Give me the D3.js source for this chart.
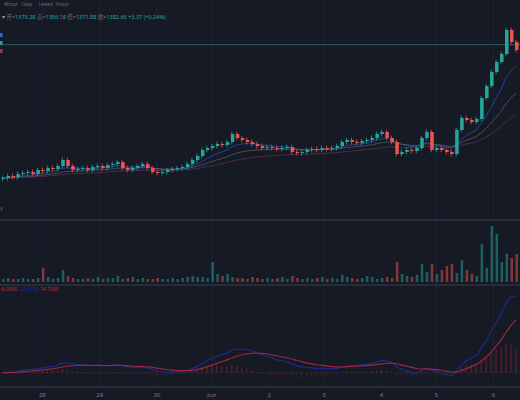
<!DOCTYPE html>
<html>
<head>
<meta charset="UTF-8">
<script src="https://d3js.org/d3.v7.min.js"></script>
<style>
  body{margin:0;background:#161a25;}
  svg{display:block;font-family:"Noto Sans","Noto Sans CJK SC",sans-serif;}
</style>
</head>
<body>
<svg id="chart" width="520" height="400"></svg>
<script>
// closing prices, one per candle
const closes = [1316,1317,1316.5,1318,
  1318.5,1319,1318,1320,1319.5,1321,1320.5,1322,
  1325,1322,1320,
  1320.5,1321,1320,1321.5,1322,1321,1322.5,1323,
  1324,1321,1320,1321,1322,1323,1321,
  1319,1318.5,1319,1320,1320.5,1321,1321.5,
  1323,1325,1327,1330,1331,1332,1333,1332.5,1334,
  1338,1336,1335,1334,1333,1332,
  1331,1331.5,1331,1330.5,1331,1331.5,1329,1328.5,
  1329,1330,1330.5,1330,1331,1330.5,1331,1332,
  1334,1335,1334,1333.5,1334.5,1335,1336,1338,
  1339,1336,1334,1328,1329,1330,1329.5,1331,1336,1339,1330,
  1331,1330,1329,1328,1340,1346,1345,1344,1345.5,
  1356,1362,1369,1374,1378,1390,1384,1380];
const volumes = [3,4,3,3,4,3,3,4,14,5,3,4,
  12,6,4,3,3,4,3,5,3,4,4,6,3,4,5,3,4,3,
  3,4,3,3,4,3,4,5,6,5,5,4,20,8,6,8,5,4,4,3,
  5,4,3,4,3,4,5,3,6,4,3,4,3,4,5,3,4,3,
  7,5,4,3,4,6,5,3,4,5,4,20,8,6,5,7,18,10,18,
  8,12,16,18,9,22,12,8,6,38,14,56,48,20,28,24,28];
const tickIdx = [8,19.5,31,42,53.5,64.5,76,87,98.5];
const tickLabels = ['28','29','30','Jun','2','3','4','5','6'];
const header = [['开','1379.28'],['高','1386.18'],['低','1371.88'],['收','1382.66']];
const lastPrice = 1382.66;

const W = 520, H = 400;
const svg = d3.select('#chart');
const up = '#26a69a', down = '#ef5350';

const candles = closes.map((c,i)=>{
  const o = i ? closes[i-1] : c - 0.5;
  return {i, o, c, h: Math.max(o,c)+1.2, l: Math.min(o,c)-1.2, v: volumes[i]};
});

const x = d3.scaleBand().domain(d3.range(closes.length)).range([0,W]).padding(0.3);
const xc = i => x.step()*i + x.step()/2;
const y = d3.scaleLinear().domain([1305,1405]).range([200,0]);
const yv = d3.scaleLinear().domain([0,60]).range([282,222]);

// grid
svg.selectAll('.vgrid').data(tickIdx).join('line')
  .attr('x1',d=>xc(d)).attr('x2',d=>xc(d)).attr('y1',0).attr('y2',387)
  .attr('stroke','#1d2230');

// separators
[220,285,387].forEach(v=>svg.append('line').attr('x1',0).attr('x2',W)
  .attr('y1',v).attr('y2',v).attr('stroke','#3a3f4c'));

// moving averages
function ema(arr,n){const k=2/(n+1);let e=arr[0];return arr.map(v=>e=v*k+e*(1-k));}
const line = d3.line().x((d,i)=>xc(i)).y(d=>y(d));
[[9,'#2962ff'],[20,'#5f7a78'],[40,'#7a3560']].forEach(([n,col])=>{
  svg.append('path').attr('d',line(ema(closes,n))).attr('fill','none')
    .attr('stroke',col).attr('stroke-width',0.8).attr('opacity',0.7);
});

// last price line
svg.append('line').attr('x1',0).attr('x2',W).attr('y1',y(lastPrice)).attr('y2',y(lastPrice))
  .attr('stroke','#2b5a5e').attr('stroke-width',1);

// candles
const g = svg.append('g');
g.selectAll('.wick').data(candles).join('line')
  .attr('x1',d=>xc(d.i)).attr('x2',d=>xc(d.i)).attr('y1',d=>y(d.h)).attr('y2',d=>y(d.l))
  .attr('stroke',d=>d.c>=d.o?up:down).attr('stroke-width',0.8);
g.selectAll('.body').data(candles).join('rect')
  .attr('x',d=>x(d.i)).attr('width',x.bandwidth())
  .attr('y',d=>y(Math.max(d.o,d.c))).attr('height',d=>Math.max(1,Math.abs(y(d.o)-y(d.c))))
  .attr('fill',d=>d.c>=d.o?up:down);

// volume
svg.selectAll('.vol').data(candles).join('rect')
  .attr('x',d=>x(d.i)+0.5).attr('width',x.bandwidth()-1)
  .attr('y',d=>yv(d.v)).attr('height',d=>yv(0)-yv(d.v))
  .attr('fill',d=>d.c>=d.o?up:down).attr('opacity',0.5);

// MACD
const e12 = ema(closes,12), e26 = ema(closes,26);
const macd = e12.map((v,i)=>v-e26[i]);
const sig = ema(macd,9);
const hist = macd.map((v,i)=>v-sig[i]);
const ym = d3.scaleLinear().domain([d3.min(macd.concat(sig,hist)), d3.max(macd)]).range([378,296]);
svg.append('line').attr('x1',0).attr('x2',W).attr('y1',ym(0)).attr('y2',ym(0))
  .attr('stroke','#3a2a3a').attr('stroke-width',0.6);
svg.selectAll('.hist').data(hist).join('line')
  .attr('x1',(d,i)=>xc(i)).attr('x2',(d,i)=>xc(i)).attr('y1',ym(0)).attr('y2',d=>ym(d))
  .attr('stroke',d=>d>=0?'#a02a36':'#6a1c2a').attr('stroke-width',0.8).attr('opacity',0.8);
const ml = d3.line().x((d,i)=>xc(i)).y(d=>ym(d)).curve(d3.curveMonotoneX);
svg.append('path').attr('d',ml(macd)).attr('fill','none').attr('stroke','#1e2a8a').attr('stroke-width',1.2);
svg.append('path').attr('d',ml(sig)).attr('fill','none').attr('stroke','#9a2740').attr('stroke-width',1.2);

// x axis labels
svg.selectAll('.tick').data(tickIdx).join('text')
  .attr('x',d=>xc(d)).attr('y',397).attr('text-anchor','middle')
  .attr('font-size',6).attr('fill','#787b86').text((d,i)=>tickLabels[i]);

// header
['4hour','1day','1week','1hour'].forEach((t,i)=>svg.append('text')
  .attr('x',4+i*17).attr('y',6).attr('font-size',5).attr('fill','#6a6d78').text(t));
const ht = svg.append('text').attr('x',2).attr('y',19).attr('font-size',5.5).attr('fill','#26a69a');
ht.append('tspan').attr('fill','#9598a1').text('▾ ');
header.forEach(([k,v])=>{ht.append('tspan').attr('fill','#6a6d78').text(k+'=');ht.append('tspan').text(v+'  ');});
ht.append('tspan').text('+3.37 (+0.24%)');
[['#2962ff',33],['#26a69a',41],['#8e3a6b',49]].forEach(([c,yy])=>svg.append('rect')
  .attr('x',0).attr('y',yy).attr('width',2.5).attr('height',4).attr('fill',c));
svg.append('text').attr('x',0).attr('y',211).attr('font-size',5).attr('fill','#6a6d78').text('V');

const mt = svg.append('text').attr('x',0).attr('y',291).attr('font-size',5);
mt.append('tspan').attr('fill','#c0303a').text('-6.0000  ');
mt.append('tspan').attr('fill','#1e2ab0').text('-22.3300  ');
mt.append('tspan').attr('fill','#c0303a').text('14.7000');
</script>
</body>
</html>
